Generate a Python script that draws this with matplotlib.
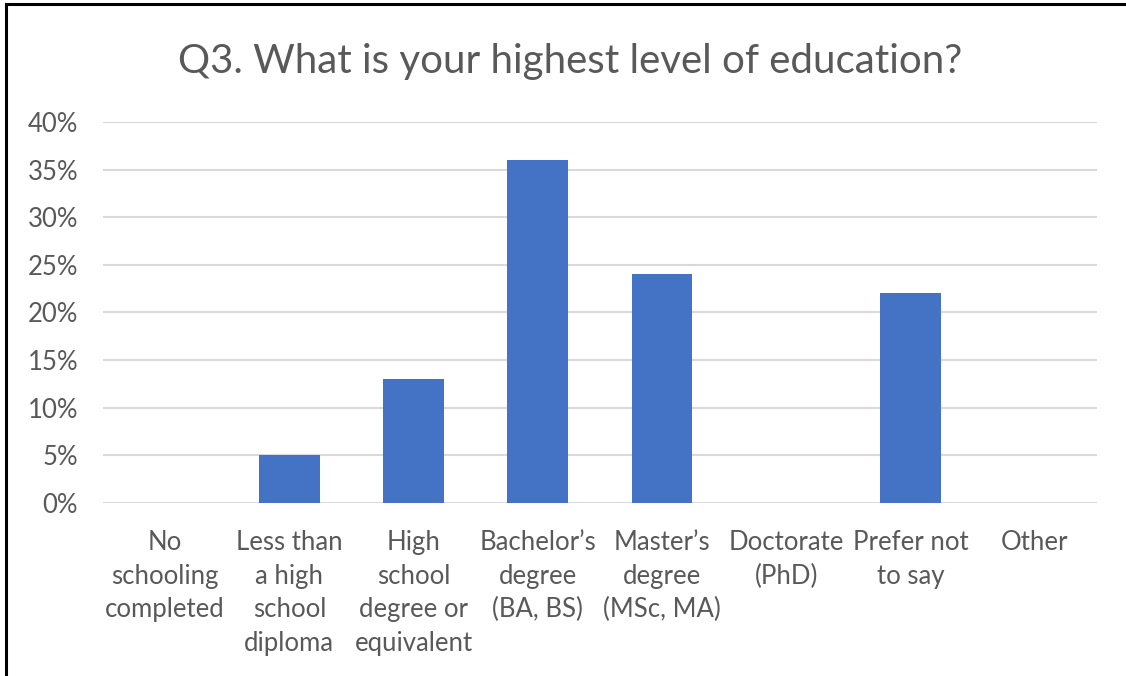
import numpy as np
import matplotlib.pyplot as plt
from matplotlib.lines import Line2D
from matplotlib.ticker import PercentFormatter

# survey answers, share of respondents
categories = [
    "No\nschooling\ncompleted",
    "Less than\na high\nschool\ndiploma",
    "High\nschool\ndegree or\nequivalent",
    "Bachelor\u2019s\ndegree\n(BA, BS)",
    "Master\u2019s\ndegree\n(MSc, MA)",
    "Doctorate\n(PhD)",
    "Prefer not\nto say",
    "Other",
]
shares = [0.00, 0.05, 0.13, 0.36, 0.24, 0.00, 0.22, 0.00]
yticks = [0.00, 0.05, 0.10, 0.15, 0.20, 0.25, 0.30, 0.35, 0.40]

plt.rcParams['font.family'] = ['Lato', 'DejaVu Sans']
txt = '#595959'

fig = plt.figure(figsize=(11.26, 6.76), dpi=100)
ax = fig.add_axes([0.0915, 0.256, 0.8825, 0.5635])

x = np.arange(len(categories))
ax.bar(x, shares, width=0.49, color='#4472C4', zorder=3)

ax.set_xlim(-0.5, len(categories) - 0.5)
ax.set_ylim(0, 0.40)
ax.set_yticks(yticks)
ax.yaxis.set_major_formatter(PercentFormatter(1.0, decimals=0))
ax.set_xticks(x)
ax.set_xticklabels(categories, va='top', linespacing=1.43)

ax.grid(axis='y', color='#D9D9D9', linewidth=1.5, zorder=0)
for s in ax.spines.values():
    s.set_visible(False)
ax.tick_params(axis='both', length=0, labelsize=18.5, colors=txt)
ax.tick_params(axis='y', pad=18)
ax.tick_params(axis='x', pad=19.5)

fig.text(0.506, 0.909, "Q3. What is your highest level of education?",
         ha='center', va='center', fontsize=29, color=txt)

# screenshot border at left and top
fig.add_artist(Line2D([6 / 1126, 6 / 1126], [0, 1 - 4 / 676], color='black', lw=2.2))
fig.add_artist(Line2D([6 / 1126, 1], [1 - 4 / 676, 1 - 4 / 676], color='black', lw=2.2))

fig.savefig('out.png', dpi=100)
